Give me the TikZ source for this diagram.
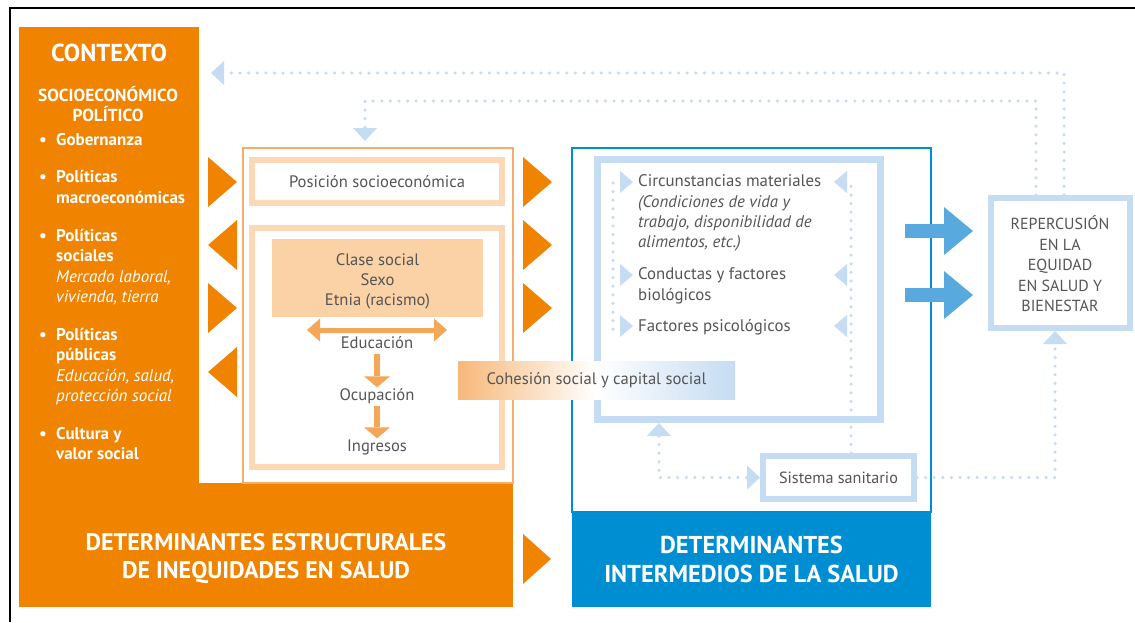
\documentclass[tikz,border=0pt]{standalone}
\usepackage{fontspec}
\setmainfont{PT Sans}
\usetikzlibrary{arrows.meta,positioning}
\definecolor{ctxorange}{RGB}{240,131,0}
\definecolor{paleorange}{RGB}{252,216,182}
\definecolor{clasefill}{RGB}{250,210,166}
\definecolor{lineorange}{RGB}{245,172,108}
\definecolor{arroworange}{RGB}{245,166,88}
\definecolor{intblue}{RGB}{0,142,210}
\definecolor{paleblue}{RGB}{197,220,242}
\definecolor{arrowblue}{RGB}{88,170,222}
\definecolor{txtgray}{RGB}{85,85,85}

\begin{document}
\begin{tikzpicture}[x=1pt,y=-1pt,
  frameo/.style={draw=paleorange, line width=6pt, fill=white, inner sep=0pt},
  frameb/.style={draw=paleblue, line width=6pt, fill=white, inner sep=0pt},
  txt/.style={text=txtgray, font=\fontsize{16.6}{20}\selectfont, align=center, inner sep=0pt},
  ctxt/.style={text=white, font=\bfseries\fontsize{17}{20.5}\selectfont, align=left, anchor=base west, inner sep=0pt},
  bul/.style={text=white, font=\bfseries\fontsize{17}{20.5}\selectfont, anchor=base, inner sep=0pt},
  item/.style={text=txtgray, font=\fontsize{16.8}{20.2}\selectfont, align=left, anchor=base west, inner sep=0pt},
  dots/.style={draw=paleblue, line width=3.5pt, line cap=round, dash pattern=on 0pt off 8.6pt,
    >={Triangle[width=24pt,length=13pt,line width=0pt]}},
  orarrow/.style={draw=arroworange, line width=5pt,
    >={Triangle[width=23pt,length=13pt,line width=0pt]}},
  downarrow/.style={draw=arroworange, line width=5.5pt,
    >={Triangle[width=26pt,length=11pt,line width=0pt]}},
  bigarrow/.style={draw=arrowblue, line width=14pt,
    -{Triangle[width=48pt,length=29pt,line width=0pt]}},
  tri/.style={fill=ctxorange},
  btri/.style={fill=paleblue}
]
\useasboundingbox (0,0) rectangle (1135,622);
%\draw [help lines] grid (6,6);
\draw[line width=2pt] (10,622) -- (10,8) -- (1135,8);

% contexto
\node[fill=ctxorange, minimum width=180pt, minimum height=456pt, inner sep=0pt] (ctx) at (109,255) {};
\node[fill=ctxorange, minimum width=494pt, minimum height=124pt, inner sep=0pt] (estr) at (266,545) {};
\node[text=white, font=\bfseries\fontsize{24.5}{28}\selectfont] (ctxtit) at (109,53) {CONTEXTO};
\node[text=white, font=\bfseries\fontsize{17.4}{20}\selectfont, align=center] (ctxsub) at (108,104) {SOCIOECONÓMICO\\POLÍTICO};
\node[bul] (b1) at (43,145) {•};
\node[ctxt] (gob) at (56,145) {Gobernanza};
\node[bul] (b2) at (43,182) {•};
\node[ctxt] (polm) at (56,203) {Políticas\\macroeconómicas};
\node[bul] (b3) at (43,241) {•};
\node[ctxt] (pols) at (56,302.5) {Políticas\\sociales\\\mdseries\itshape Mercado laboral,\\\mdseries\itshape vivienda, tierra};
\node[bul] (b4) at (43,340) {•};
\node[ctxt] (polp) at (56,401.5) {Políticas\\públicas\\\mdseries\itshape Educación, salud,\\\mdseries\itshape protección social};
\node[bul] (b5) at (43,439) {•};
\node[ctxt] (cult) at (56,459.5) {Cultura y\\valor social};
\node[text=white, font=\bfseries\fontsize{24}{28}\selectfont, align=center] (estrtxt) at (266,559) {DETERMINANTES ESTRUCTURALES\\DE INEQUIDADES EN SALUD};

% determinantes estructurales
\node[draw=lineorange, line width=1.2pt, minimum width=270pt, minimum height=335pt] (estrp) at (378,315.5) {};
\node[frameo, minimum width=250pt, minimum height=43pt] (pos) at (377,181.5) {};
\node[txt] at (pos) {Posición socioeconómica};
\node[frameo, minimum width=250pt, minimum height=239pt] (grupo) at (377,347.5) {};
\node[fill=clasefill, minimum width=211pt, minimum height=78pt, inner sep=0pt] (clase) at (377.5,278) {};
\node[txt] at ([yshift=-3pt]clase.center) {Clase social\\Sexo\\Etnia (racismo)};
\node[txt, text height=12pt, text depth=3pt] (educ) at (377,344) {Educación};
\node[txt, text height=12pt, text depth=3pt] (ocup) at (377,396) {Ocupación};
\node[txt, text height=12pt, text depth=3pt] (ingr) at (377,447) {Ingresos};
\coordinate (edl) at (307,330);
\coordinate (edr) at (447,330);
\draw[orarrow, <->] (edl) -- (edr);
\draw[downarrow, ->, shorten <=2pt, shorten >=1pt] (educ) -- (ocup);
\draw[downarrow, ->, shorten <=2pt, shorten >=1pt] (ocup) -- (ingr);

\fill[tri] (208,157) -- (237,182) -- (208,207) -- cycle;
\fill[tri] (237,220) -- (208,245) -- (237,270) -- cycle;
\fill[tri] (208,283) -- (237,308) -- (208,333) -- cycle;
\fill[tri] (237,347) -- (208,372) -- (237,397) -- cycle;
\fill[tri] (523,157) -- (552,182) -- (523,207) -- cycle;
\fill[tri] (523,220) -- (552,245) -- (523,270) -- cycle;
\fill[tri] (523,283) -- (552,308) -- (523,333) -- cycle;
\fill[tri] (523,534) -- (551,559) -- (523,584) -- cycle;

% determinantes intermedios
\node[draw=intblue, line width=1.5pt, minimum width=359pt, minimum height=364pt] (interm) at (751.5,330) {};
\node[fill=intblue, minimum width=359pt, minimum height=95pt, text=white,
  font=\bfseries\fontsize{24.4}{29}\selectfont, align=center] (intermtxt) at (751.5,559.5) {DETERMINANTES\\INTERMEDIOS DE LA SALUD};
\node[frameb, line width=7pt, minimum width=283pt, minimum height=260pt] (circ) at (739,289.5) {};
\node[item] (mat) at (638,247.5) {Circunstancias materiales\\\itshape (Condiciones de vida y\\\itshape trabajo, disponibilidad de\\\itshape alimentos, etc.)};
\node[item] (cond) at (638,300) {Conductas y factores\\biológicos};
\node[item] (psic) at (638,331) {Factores psicológicos};
\foreach \y in {182,275,326} {
  \fill[btri] (620,\y-11) -- (633,\y) -- (620,\y+11) -- cycle;
  \fill[btri] (847,\y-11) -- (834,\y) -- (847,\y+11) -- cycle;
}
\node[frameb, minimum width=151pt, minimum height=43pt] (sist) at (838.5,477.5) {};
\node[txt, font=\fontsize{16.2}{20}\selectfont] at (sist) {Sistema sanitario};
\node[frameb, minimum width=139pt, minimum height=130pt] (rep) at (1060.5,263) {};
\node[txt, font=\fontsize{16}{20.5}\selectfont] at (1060,264) {REPERCUSIÓN\\EN LA\\EQUIDAD\\EN SALUD Y\\BIENESTAR};

% conectores
\coordinate (dl1) at (613,183);
\coordinate (dl2) at (613,330);
\coordinate (dr1) at (851,183);
\coordinate (dr2) at (851,453);
\draw[dots] (dl1) -- (dl2);
\draw[dots] (dr2) -- (dr1);
\coordinate (sanup) at (659,423);
\draw[dots, <->] (sanup) |- (sist.west);
\coordinate (repin) at (1055,331);
\draw[dots, ->] (sist.east) -| (repin);
\coordinate (ro) at (1064,195);
\coordinate (ctxin) at (211,73);
\draw[dots, ->] (ro) |- (ctxin);
\coordinate (ri) at (1036,195);
\coordinate (pc) at (365,101);
\coordinate (pin) at (365,141);
\draw[dots, ->] (ri) |- (pc) -- (pin);
\coordinate (ba1) at (905,231);
\coordinate (ba1e) at (973,231);
\coordinate (ba2) at (905,295);
\coordinate (ba2e) at (973,295);
\draw[bigarrow] (ba1) -- (ba1e);
\draw[bigarrow] (ba2) -- (ba2e);

\node[left color=arroworange!80, right color=paleblue, middle color=white,
  minimum width=277pt, minimum height=38pt, inner sep=0pt] (cohes) at (596.5,380) {};
\node[txt] at (cohes) {Cohesión social y capital social};
\end{tikzpicture}
\end{document}
